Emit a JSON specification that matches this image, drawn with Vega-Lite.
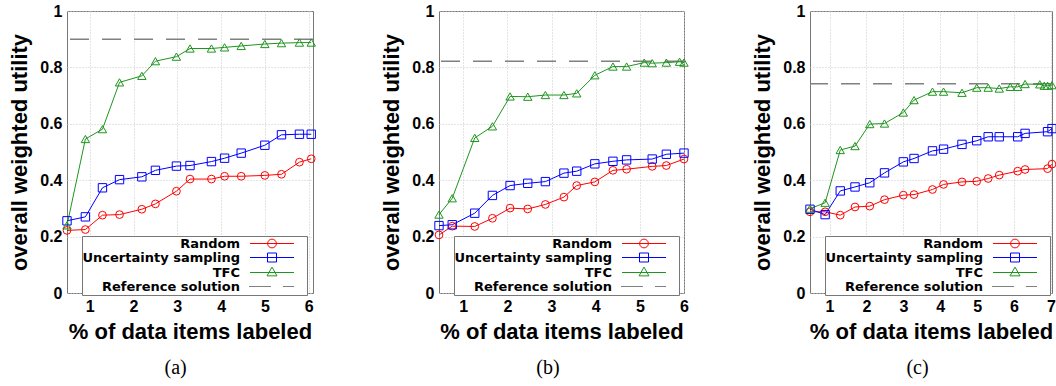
{
  "$schema": "https://vega.github.io/schema/vega-lite/v6.json",
  "padding": {"left": 8, "top": 2, "right": 0, "bottom": 0},
  "bounds": "flush",
  "spacing": 126,
  "datasets": {
    "a": [
      {"x": 0.48, "y": 0.222, "s": "Random"}, {"x": 0.9, "y": 0.225, "s": "Random"}, {"x": 1.29, "y": 0.276, "s": "Random"}, {"x": 1.68, "y": 0.278, "s": "Random"}, {"x": 2.19, "y": 0.297, "s": "Random"}, {"x": 2.5, "y": 0.316, "s": "Random"}, {"x": 2.98, "y": 0.361, "s": "Random"}, {"x": 3.29, "y": 0.404, "s": "Random"}, {"x": 3.78, "y": 0.404, "s": "Random"}, {"x": 4.08, "y": 0.414, "s": "Random"}, {"x": 4.46, "y": 0.414, "s": "Random"}, {"x": 5.0, "y": 0.417, "s": "Random"}, {"x": 5.38, "y": 0.421, "s": "Random"}, {"x": 5.79, "y": 0.464, "s": "Random"}, {"x": 6.06, "y": 0.476, "s": "Random"},
      {"x": 0.48, "y": 0.256, "s": "Uncertainty sampling"}, {"x": 0.9, "y": 0.27, "s": "Uncertainty sampling"}, {"x": 1.29, "y": 0.373, "s": "Uncertainty sampling"}, {"x": 1.68, "y": 0.402, "s": "Uncertainty sampling"}, {"x": 2.19, "y": 0.412, "s": "Uncertainty sampling"}, {"x": 2.5, "y": 0.435, "s": "Uncertainty sampling"}, {"x": 2.98, "y": 0.45, "s": "Uncertainty sampling"}, {"x": 3.29, "y": 0.452, "s": "Uncertainty sampling"}, {"x": 3.78, "y": 0.466, "s": "Uncertainty sampling"}, {"x": 4.08, "y": 0.478, "s": "Uncertainty sampling"}, {"x": 4.46, "y": 0.496, "s": "Uncertainty sampling"}, {"x": 5.0, "y": 0.524, "s": "Uncertainty sampling"}, {"x": 5.38, "y": 0.561, "s": "Uncertainty sampling"}, {"x": 5.79, "y": 0.563, "s": "Uncertainty sampling"}, {"x": 6.06, "y": 0.563, "s": "Uncertainty sampling"},
      {"x": 0.48, "y": 0.24, "s": "TFC"}, {"x": 0.9, "y": 0.546, "s": "TFC"}, {"x": 1.29, "y": 0.581, "s": "TFC"}, {"x": 1.68, "y": 0.747, "s": "TFC"}, {"x": 2.19, "y": 0.77, "s": "TFC"}, {"x": 2.5, "y": 0.822, "s": "TFC"}, {"x": 2.98, "y": 0.838, "s": "TFC"}, {"x": 3.29, "y": 0.867, "s": "TFC"}, {"x": 3.78, "y": 0.867, "s": "TFC"}, {"x": 4.08, "y": 0.871, "s": "TFC"}, {"x": 4.46, "y": 0.876, "s": "TFC"}, {"x": 5.0, "y": 0.883, "s": "TFC"}, {"x": 5.38, "y": 0.886, "s": "TFC"}, {"x": 5.79, "y": 0.888, "s": "TFC"}, {"x": 6.06, "y": 0.888, "s": "TFC"}
    ],
    "b": [
      {"x": 0.45, "y": 0.206, "s": "Random"}, {"x": 0.75, "y": 0.237, "s": "Random"}, {"x": 1.26, "y": 0.236, "s": "Random"}, {"x": 1.66, "y": 0.265, "s": "Random"}, {"x": 2.06, "y": 0.301, "s": "Random"}, {"x": 2.46, "y": 0.298, "s": "Random"}, {"x": 2.86, "y": 0.314, "s": "Random"}, {"x": 3.28, "y": 0.34, "s": "Random"}, {"x": 3.57, "y": 0.381, "s": "Random"}, {"x": 3.98, "y": 0.394, "s": "Random"}, {"x": 4.39, "y": 0.435, "s": "Random"}, {"x": 4.7, "y": 0.439, "s": "Random"}, {"x": 5.28, "y": 0.449, "s": "Random"}, {"x": 5.6, "y": 0.452, "s": "Random"}, {"x": 6.0, "y": 0.475, "s": "Random"},
      {"x": 0.45, "y": 0.239, "s": "Uncertainty sampling"}, {"x": 0.75, "y": 0.242, "s": "Uncertainty sampling"}, {"x": 1.26, "y": 0.283, "s": "Uncertainty sampling"}, {"x": 1.66, "y": 0.346, "s": "Uncertainty sampling"}, {"x": 2.06, "y": 0.381, "s": "Uncertainty sampling"}, {"x": 2.46, "y": 0.389, "s": "Uncertainty sampling"}, {"x": 2.86, "y": 0.395, "s": "Uncertainty sampling"}, {"x": 3.28, "y": 0.425, "s": "Uncertainty sampling"}, {"x": 3.57, "y": 0.432, "s": "Uncertainty sampling"}, {"x": 3.98, "y": 0.458, "s": "Uncertainty sampling"}, {"x": 4.39, "y": 0.467, "s": "Uncertainty sampling"}, {"x": 4.7, "y": 0.472, "s": "Uncertainty sampling"}, {"x": 5.28, "y": 0.475, "s": "Uncertainty sampling"}, {"x": 5.6, "y": 0.492, "s": "Uncertainty sampling"}, {"x": 6.0, "y": 0.496, "s": "Uncertainty sampling"},
      {"x": 0.45, "y": 0.278, "s": "TFC"}, {"x": 0.75, "y": 0.336, "s": "TFC"}, {"x": 1.26, "y": 0.55, "s": "TFC"}, {"x": 1.66, "y": 0.591, "s": "TFC"}, {"x": 2.06, "y": 0.697, "s": "TFC"}, {"x": 2.46, "y": 0.696, "s": "TFC"}, {"x": 2.86, "y": 0.702, "s": "TFC"}, {"x": 3.28, "y": 0.702, "s": "TFC"}, {"x": 3.57, "y": 0.708, "s": "TFC"}, {"x": 3.98, "y": 0.772, "s": "TFC"}, {"x": 4.39, "y": 0.803, "s": "TFC"}, {"x": 4.7, "y": 0.803, "s": "TFC"}, {"x": 5.1, "y": 0.817, "s": "TFC"}, {"x": 5.28, "y": 0.815, "s": "TFC"}, {"x": 5.6, "y": 0.817, "s": "TFC"}, {"x": 5.9, "y": 0.82, "s": "TFC"}, {"x": 6.0, "y": 0.817, "s": "TFC"}
    ],
    "c": [
      {"x": 0.47, "y": 0.288, "s": "Random"}, {"x": 0.88, "y": 0.288, "s": "Random"}, {"x": 1.29, "y": 0.276, "s": "Random"}, {"x": 1.69, "y": 0.305, "s": "Random"}, {"x": 2.09, "y": 0.308, "s": "Random"}, {"x": 2.49, "y": 0.331, "s": "Random"}, {"x": 3.0, "y": 0.347, "s": "Random"}, {"x": 3.29, "y": 0.349, "s": "Random"}, {"x": 3.79, "y": 0.367, "s": "Random"}, {"x": 4.09, "y": 0.385, "s": "Random"}, {"x": 4.59, "y": 0.394, "s": "Random"}, {"x": 4.99, "y": 0.396, "s": "Random"}, {"x": 5.3, "y": 0.406, "s": "Random"}, {"x": 5.6, "y": 0.418, "s": "Random"}, {"x": 6.1, "y": 0.432, "s": "Random"}, {"x": 6.3, "y": 0.438, "s": "Random"}, {"x": 6.91, "y": 0.441, "s": "Random"}, {"x": 7.03, "y": 0.457, "s": "Random"},
      {"x": 0.47, "y": 0.297, "s": "Uncertainty sampling"}, {"x": 0.88, "y": 0.278, "s": "Uncertainty sampling"}, {"x": 1.29, "y": 0.362, "s": "Uncertainty sampling"}, {"x": 1.69, "y": 0.376, "s": "Uncertainty sampling"}, {"x": 2.09, "y": 0.391, "s": "Uncertainty sampling"}, {"x": 2.49, "y": 0.426, "s": "Uncertainty sampling"}, {"x": 3.0, "y": 0.465, "s": "Uncertainty sampling"}, {"x": 3.29, "y": 0.477, "s": "Uncertainty sampling"}, {"x": 3.79, "y": 0.504, "s": "Uncertainty sampling"}, {"x": 4.09, "y": 0.51, "s": "Uncertainty sampling"}, {"x": 4.59, "y": 0.527, "s": "Uncertainty sampling"}, {"x": 4.99, "y": 0.54, "s": "Uncertainty sampling"}, {"x": 5.3, "y": 0.554, "s": "Uncertainty sampling"}, {"x": 5.6, "y": 0.554, "s": "Uncertainty sampling"}, {"x": 6.1, "y": 0.554, "s": "Uncertainty sampling"}, {"x": 6.3, "y": 0.566, "s": "Uncertainty sampling"}, {"x": 6.91, "y": 0.572, "s": "Uncertainty sampling"}, {"x": 7.03, "y": 0.583, "s": "Uncertainty sampling"},
      {"x": 0.47, "y": 0.299, "s": "TFC"}, {"x": 0.88, "y": 0.32, "s": "TFC"}, {"x": 1.29, "y": 0.507, "s": "TFC"}, {"x": 1.69, "y": 0.521, "s": "TFC"}, {"x": 2.09, "y": 0.599, "s": "TFC"}, {"x": 2.49, "y": 0.601, "s": "TFC"}, {"x": 3.0, "y": 0.64, "s": "TFC"}, {"x": 3.29, "y": 0.684, "s": "TFC"}, {"x": 3.79, "y": 0.714, "s": "TFC"}, {"x": 4.09, "y": 0.714, "s": "TFC"}, {"x": 4.59, "y": 0.71, "s": "TFC"}, {"x": 4.99, "y": 0.728, "s": "TFC"}, {"x": 5.3, "y": 0.728, "s": "TFC"}, {"x": 5.6, "y": 0.725, "s": "TFC"}, {"x": 5.9, "y": 0.731, "s": "TFC"}, {"x": 6.1, "y": 0.731, "s": "TFC"}, {"x": 6.3, "y": 0.741, "s": "TFC"}, {"x": 6.7, "y": 0.74, "s": "TFC"}, {"x": 6.82, "y": 0.735, "s": "TFC"}, {"x": 6.91, "y": 0.735, "s": "TFC"}, {"x": 7.03, "y": 0.737, "s": "TFC"}
    ],
    "refa": [{"y": 0.9, "s": "Reference solution"}],
    "refb": [{"y": 0.822, "s": "Reference solution"}],
    "refc": [{"y": 0.742, "s": "Reference solution"}]
  },
  "hconcat": [
    {
      "width": 246, "height": 282,
      "title": {"text": "(a)", "orient": "bottom", "anchor": "middle", "frame": "bounds", "font": "Liberation Serif", "fontSize": 20, "fontWeight": "normal", "color": "black", "offset": 16},
      "encoding": {
        "x": {"field": "x", "type": "quantitative", "scale": {"domain": [0.48, 6.1], "nice": false}, "axis": {"title": "% of data items labeled", "values": [1, 2, 3, 4, 5, 6], "format": "d"}},
        "y": {"field": "y", "type": "quantitative", "scale": {"domain": [0, 1], "nice": false}, "axis": {"title": "overall weighted utility", "values": [0, 0.2, 0.4, 0.6, 0.8, 1], "format": ".1~f"}},
        "color": {"field": "s", "type": "nominal", "scale": {"domain": ["Random", "Uncertainty sampling", "TFC", "Reference solution"], "range": ["#ff0000", "#0000ff", "#1e961e", "#808080"]},
                  "legend": {"title": null, "orient": "none", "legendX": 15, "legendY": 225, "padding": 1, "symbolOffset": 182.5, "labelOffset": -38.5, "labelAlign": "right", "symbolSize": 144, "symbolStrokeWidth": 1, "symbolFillColor": "transparent", "symbolOpacity": 1, "rowPadding": 0, "strokeColor": "#777777", "fillColor": "white"}}
      },
      "layer": [
        {"data": {"name": "a"}, "mark": {"type": "point", "opacity": 0, "size": 144},
         "encoding": {"shape": {"field": "s", "type": "nominal", "scale": {"domain": ["Random", "Uncertainty sampling", "TFC", "Reference solution"], "range": ["M-3.67,0H3.67M0.73,0A0.73,0.73,0,1,1,-0.73,0A0.73,0.73,0,1,1,0.73,0M5.2,0", "M-3.67,0H3.67M-0.75,-0.75H0.75V0.75H-0.75ZM5.2,0", "M-3.67,0H3.67M0,-0.9L0.83,0.56H-0.83ZM5.2,0", "M-3.83,0H-0.17M1.83,0H3.67M5.2,0"]},
                                "legend": {"title": null, "orient": "none", "legendX": 15, "legendY": 225, "padding": 1, "symbolOffset": 182.5, "labelOffset": -38.5, "labelAlign": "right", "symbolSize": 144, "symbolStrokeWidth": 1, "symbolFillColor": "transparent", "symbolOpacity": 1, "rowPadding": 0, "strokeColor": "#777777", "fillColor": "white"}}}},
        {"data": {"name": "refa"}, "mark": {"type": "rule", "strokeDash": [19, 13], "strokeWidth": 1.5}, "encoding": {"x": null}},
        {"data": {"name": "a"}, "mark": {"type": "line", "strokeWidth": 1}},
        {"data": {"name": "a"}, "transform": [{"filter": "datum.s === 'Random'"}], "mark": {"type": "point", "shape": "circle", "filled": false, "size": 60, "strokeWidth": 1, "opacity": 1}},
        {"data": {"name": "a"}, "transform": [{"filter": "datum.s === 'Uncertainty sampling'"}], "mark": {"type": "point", "shape": "square", "filled": false, "size": 70, "strokeWidth": 1, "opacity": 1}},
        {"data": {"name": "a"}, "transform": [{"filter": "datum.s === 'TFC'"}], "mark": {"type": "point", "shape": "triangle-up", "filled": false, "size": 70, "strokeWidth": 1, "opacity": 1}}
      ]
    },
    {
      "width": 245, "height": 282,
      "title": {"text": "(b)", "orient": "bottom", "anchor": "middle", "frame": "bounds", "font": "Liberation Serif", "fontSize": 20, "fontWeight": "normal", "color": "black", "offset": 16},
      "encoding": {
        "x": {"field": "x", "type": "quantitative", "scale": {"domain": [0.45, 6.0], "nice": false}, "axis": {"title": "% of data items labeled", "values": [1, 2, 3, 4, 5, 6], "format": "d"}},
        "y": {"field": "y", "type": "quantitative", "scale": {"domain": [0, 1], "nice": false}, "axis": {"title": "overall weighted utility", "values": [0, 0.2, 0.4, 0.6, 0.8, 1], "format": ".1~f"}},
        "color": {"field": "s", "type": "nominal", "scale": {"domain": ["Random", "Uncertainty sampling", "TFC", "Reference solution"], "range": ["#ff0000", "#0000ff", "#1e961e", "#808080"]},
                  "legend": {"title": null, "orient": "none", "legendX": 15, "legendY": 225, "padding": 1, "symbolOffset": 182.5, "labelOffset": -38.5, "labelAlign": "right", "symbolSize": 144, "symbolStrokeWidth": 1, "symbolFillColor": "transparent", "symbolOpacity": 1, "rowPadding": 0, "strokeColor": "#777777", "fillColor": "white"}}
      },
      "layer": [
        {"data": {"name": "b"}, "mark": {"type": "point", "opacity": 0, "size": 144},
         "encoding": {"shape": {"field": "s", "type": "nominal", "scale": {"domain": ["Random", "Uncertainty sampling", "TFC", "Reference solution"], "range": ["M-3.67,0H3.67M0.73,0A0.73,0.73,0,1,1,-0.73,0A0.73,0.73,0,1,1,0.73,0M5.2,0", "M-3.67,0H3.67M-0.75,-0.75H0.75V0.75H-0.75ZM5.2,0", "M-3.67,0H3.67M0,-0.9L0.83,0.56H-0.83ZM5.2,0", "M-3.83,0H-0.17M1.83,0H3.67M5.2,0"]},
                                "legend": {"title": null, "orient": "none", "legendX": 15, "legendY": 225, "padding": 1, "symbolOffset": 182.5, "labelOffset": -38.5, "labelAlign": "right", "symbolSize": 144, "symbolStrokeWidth": 1, "symbolFillColor": "transparent", "symbolOpacity": 1, "rowPadding": 0, "strokeColor": "#777777", "fillColor": "white"}}}},
        {"data": {"name": "refb"}, "mark": {"type": "rule", "strokeDash": [19, 13], "strokeWidth": 1.5}, "encoding": {"x": null}},
        {"data": {"name": "b"}, "mark": {"type": "line", "strokeWidth": 1}},
        {"data": {"name": "b"}, "transform": [{"filter": "datum.s === 'Random'"}], "mark": {"type": "point", "shape": "circle", "filled": false, "size": 60, "strokeWidth": 1, "opacity": 1}},
        {"data": {"name": "b"}, "transform": [{"filter": "datum.s === 'Uncertainty sampling'"}], "mark": {"type": "point", "shape": "square", "filled": false, "size": 70, "strokeWidth": 1, "opacity": 1}},
        {"data": {"name": "b"}, "transform": [{"filter": "datum.s === 'TFC'"}], "mark": {"type": "point", "shape": "triangle-up", "filled": false, "size": 70, "strokeWidth": 1, "opacity": 1}}
      ]
    },
    {
      "width": 242, "height": 282,
      "title": {"text": "(c)", "orient": "bottom", "anchor": "middle", "frame": "bounds", "font": "Liberation Serif", "fontSize": 20, "fontWeight": "normal", "color": "black", "offset": 16},
      "encoding": {
        "x": {"field": "x", "type": "quantitative", "scale": {"domain": [0.47, 7.03], "nice": false}, "axis": {"title": "% of data items labeled", "values": [1, 2, 3, 4, 5, 6, 7], "format": "d"}},
        "y": {"field": "y", "type": "quantitative", "scale": {"domain": [0, 1], "nice": false}, "axis": {"title": "overall weighted utility", "values": [0, 0.2, 0.4, 0.6, 0.8, 1], "format": ".1~f"}},
        "color": {"field": "s", "type": "nominal", "scale": {"domain": ["Random", "Uncertainty sampling", "TFC", "Reference solution"], "range": ["#ff0000", "#0000ff", "#1e961e", "#808080"]},
                  "legend": {"title": null, "orient": "none", "legendX": 15, "legendY": 225, "padding": 1, "symbolOffset": 182.5, "labelOffset": -38.5, "labelAlign": "right", "symbolSize": 144, "symbolStrokeWidth": 1, "symbolFillColor": "transparent", "symbolOpacity": 1, "rowPadding": 0, "strokeColor": "#777777", "fillColor": "white"}}
      },
      "layer": [
        {"data": {"name": "c"}, "mark": {"type": "point", "opacity": 0, "size": 144},
         "encoding": {"shape": {"field": "s", "type": "nominal", "scale": {"domain": ["Random", "Uncertainty sampling", "TFC", "Reference solution"], "range": ["M-3.67,0H3.67M0.73,0A0.73,0.73,0,1,1,-0.73,0A0.73,0.73,0,1,1,0.73,0M5.2,0", "M-3.67,0H3.67M-0.75,-0.75H0.75V0.75H-0.75ZM5.2,0", "M-3.67,0H3.67M0,-0.9L0.83,0.56H-0.83ZM5.2,0", "M-3.83,0H-0.17M1.83,0H3.67M5.2,0"]},
                                "legend": {"title": null, "orient": "none", "legendX": 15, "legendY": 225, "padding": 1, "symbolOffset": 182.5, "labelOffset": -38.5, "labelAlign": "right", "symbolSize": 144, "symbolStrokeWidth": 1, "symbolFillColor": "transparent", "symbolOpacity": 1, "rowPadding": 0, "strokeColor": "#777777", "fillColor": "white"}}}},
        {"data": {"name": "refc"}, "mark": {"type": "rule", "strokeDash": [19, 13], "strokeWidth": 1.5}, "encoding": {"x": null}},
        {"data": {"name": "c"}, "mark": {"type": "line", "strokeWidth": 1}},
        {"data": {"name": "c"}, "transform": [{"filter": "datum.s === 'Random'"}], "mark": {"type": "point", "shape": "circle", "filled": false, "size": 60, "strokeWidth": 1, "opacity": 1}},
        {"data": {"name": "c"}, "transform": [{"filter": "datum.s === 'Uncertainty sampling'"}], "mark": {"type": "point", "shape": "square", "filled": false, "size": 70, "strokeWidth": 1, "opacity": 1}},
        {"data": {"name": "c"}, "transform": [{"filter": "datum.s === 'TFC'"}], "mark": {"type": "point", "shape": "triangle-up", "filled": false, "size": 70, "strokeWidth": 1, "opacity": 1}}
      ]
    }
  ],
  "resolve": {"scale": {"x": "independent", "y": "independent", "color": "independent", "shape": "independent"}, "legend": {"color": "independent", "shape": "independent"}},
  "config": {
    "view": {"stroke": "#777777", "strokeWidth": 1},
    "axis": {"grid": true, "gridColor": "#c8c8c8", "gridDash": [1, 2], "gridWidth": 1, "domain": false, "ticks": false, "labelFlush": false,
             "labelFont": "Liberation Sans", "labelFontWeight": "bold", "labelFontSize": 16, "labelColor": "black",
             "titleFont": "Liberation Sans", "titleFontWeight": "bold", "titleColor": "black"},
    "axisX": {"labelPadding": 5, "titleFontSize": 22, "titlePadding": 7},
    "axisY": {"labelPadding": 5, "titleFontSize": 22, "titlePadding": 8},
    "legend": {"labelFont": "DejaVu Sans", "labelFontSize": 13, "labelFontWeight": "bold", "labelColor": "black", "labelLimit": 400, "strokeColor": "#777777", "strokeWidth": 1, "fillColor": "white", "padding": 1}
  }
}
